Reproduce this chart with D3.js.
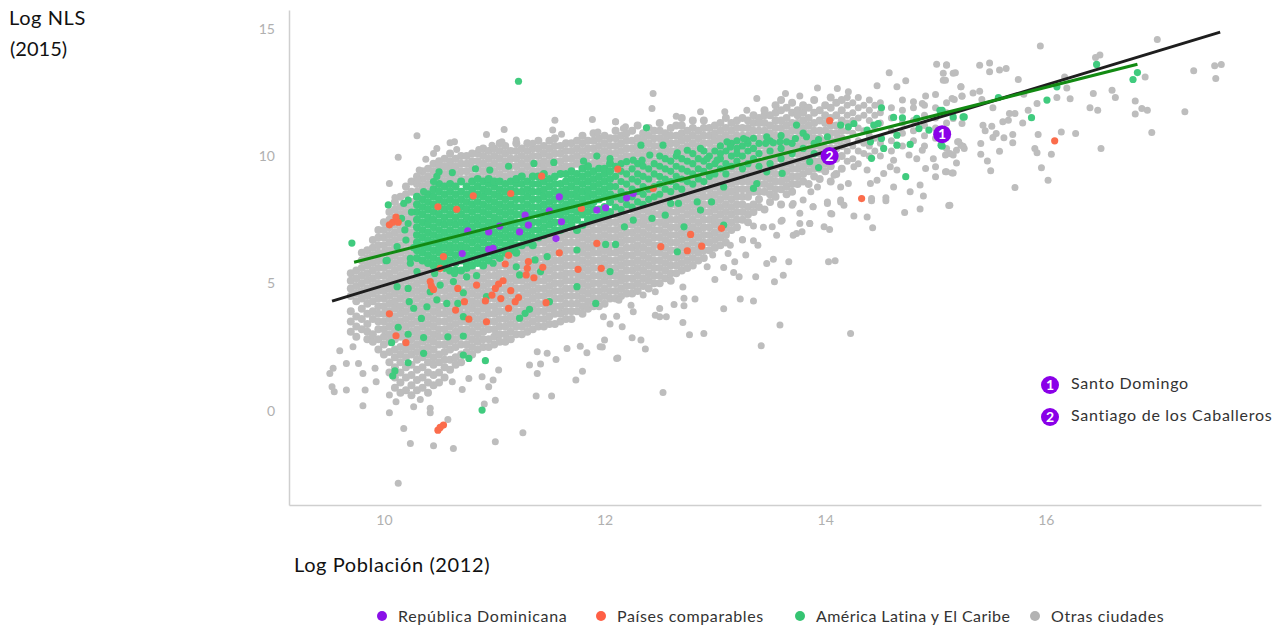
<!DOCTYPE html>
<meta charset="utf-8">
<head>
<style>
  body { margin: 0; background: #fff; }
  text { font-family: Lato, "Open Sans", sans-serif; }
</style>
</head>
<script src="https://d3js.org/d3.v7.min.js"></script>
<body>
  <div id="my_dataviz"></div>
</body>
<script>
// every value below is read or estimated off the picture; inside the dense
// core single dots can't be told apart so those columns are best estimates

// [log poblacion, log NLS] dots that can be told apart
var grayLoose = [
  [9.6,2.35],[9.72,2.51],[9.54,1.66],[9.51,1.46],[9.66,1.85],[9.77,1.85],[9.81,1.46],[9.92,1.66],[9.93,1.13],[9.53,.94],[9.55,.74],[9.66,.81],[9.83,.81],[9.81,.19],[10.05,.61],[10.05,-.09],[10.11,.35],[10.27,.15],[10.42,.09],[10.42,-.09],[10.33,.44],[10.58,-.35],[10.18,-.7],[10.24,-1.29],[10.45,-1.38],[10.63,-1.49],[10.13,-2.86],[11.01,-1.22],[11.26,-.87],[11.38,.57],[11.52,.57],[11.74,1.2],[11.8,1.55],[11.01,.41],[10.91,.26],[10.71,.83],[10.62,1.13],[10.77,1.26],[10.89,1.33],[10.95,.94],[10.99,1.2],[11.04,1.59],[11.32,1.79],[11.42,1.83],[11.39,1.46],[11.39,2.31],[11.48,2.25],[11.56,2.01],[11.66,2.44],[11.78,2.53],[11.84,2.27],[11.96,2.51],[12.11,2.05],
  [12.12,2.07],[12.37,2.42],[12.33,2.77],[12.25,2.86],[12.16,3.29],[12.05,3.4],[11.99,3.69],[12.11,3.71],[12,2.77],[11.98,2.5],[12.26,3.88],[12.24,4.14],[12.13,4.34],[12.46,3.75],[12.5,4.01],[12.5,3.69],[12.56,3.69],[12.71,3.46],[12.77,2.98],[12.9,3.03],[12.63,4.17],[12.72,4.41],[12.72,4.12],[12.82,4.38],[12.71,4.86],[13.08,4],[13,5.15],[13.08,5.62],[13.17,5.43],[13.22,5.26],[13.37,5.26],[13.23,4.38],[13.35,4.31],[13.59,3.36],[13.42,2.55],[14.23,3.03],[12.53,.71],[13.54,5.06],[13.62,5.32],[13.47,5.78],[13.53,5.95],[13.67,5.85],[14.03,5.85],[14.09,5.89],[13.28,6.11],[13.18,5.85],[13.12,6.17],[13.39,6.5],[13.35,6.67],[13.25,6.72],[13.14,6.5],[12.98,6.11],[12.93,5.65],[13.56,6.89],[13.71,6.89],[13.79,7.03],[13.77,7.35],[13.86,7.35],[13.6,7.44],[13.99,7.22],[14.04,7.12],[14.06,7.72],[14.26,7.65],[14.38,7.61],[14.43,7.18],[13.35,7.25],[13.44,7.2],[13.52,7.22],[13.77,7.75],[13.7,8.07],[13.89,8.01],[14.02,8.14],[14.14,8.2],[14.42,8.24],[14.55,8.24],[12.35,4.54],[12.46,4.67],
  [12.44,12.46],[12.43,11.87],[12.1,11.35],[12.19,11.15],[12.65,11.57],[12.87,11.74],[13.09,11.74],[13.29,11.8],[13.38,12.26],[13.64,12.46],[13.77,12.36],[13.93,12.68],[14.11,12.66],[14.21,12.53],[14.47,12.76],[14.58,13.27],[14.65,12.72],[14.73,12.96],[15.01,13.61],[15.1,13.59],[15.07,13.25],[15.16,13.25],[15.07,12.98],[15.23,12.72],[15.24,12.36],[15.17,12.22],[14.91,12.36],[15,12.42],[14.8,12.13],[14.88,12.07],
  [15.23,10.43],[15.2,10.56],[15.1,10.3],[15.16,10.04],[15.26,10.3],[14.98,9.9],[15,9.58],[15,9.19],[14.91,9.51],[15.1,9.38],[15.16,9.34],[14.76,10.04],[14.83,9.9],[14.88,10.23],[14.86,8.86],[14.89,8.43],[14.77,8.6],[15.13,8.07],[14.86,7.92],[14.72,7.78],[14.62,8.79],[14.55,8.36],[14.42,8.33],[14.62,9.84],[14.59,9.58],[14.65,9.45],[14.53,9.32],[14.41,8.92],[14.47,9.05],[14.38,9.45],[14.26,9.58],[14.14,8.79],[14.21,8.92],[14.14,8.27],[14.17,8.07],[14.05,7.74],[13.89,8.01],[14.02,8.2],[14.08,9.25],[13.93,8.79],[13.87,8.6],[13.8,8.27],[13.71,8.14],[13.86,7.35],[13.74,6.96],[13.61,7.48],[13.25,6.7],
  [15.95,14.33],[17.01,14.58],[16.49,13.97],[16.45,13.87],[15.1,13.57],[15.4,13.57],[15.49,13.66],[15.49,13.31],[15.58,13.38],[15.64,13.44],[15.18,13.27],[15.09,12.98],[15.75,13.01],[15.23,12.72],[15.24,12.35],[15.15,12.26],[15.34,12.48],[15.4,12.55],[15.42,12.22],[16.17,13.11],[16.19,12.68],[16.1,12.3],[16.22,12.25],[15.92,12.07],[15.84,11.8],[16.43,12.46],[16.6,12.59],[16.63,12.3],[16.4,11.9],[16.47,11.8],[16.81,12.16],[16.87,11.87],[16.92,11.8],[16.81,11.65],[16.9,13.11],[17.26,11.74],[17.34,13.35],[17.53,13.55],[17.59,13.6],[17.54,13.05],[16.96,10.93],[16.5,10.3],[16.27,10.89],[16.14,10.95],[15.93,10.85],[16.05,10.07],[15.9,10.3],[15.92,10.13],[15.96,9.54],[16.02,9.05],[15.72,8.77],[15.12,8.06],[15.5,9.42],[15.47,9.81],[15.41,10.07],[15.41,10.49],[15.58,10.19],[15.7,10.85],[15.7,10.52],[15.62,10.72],[15.55,10.89],[15.52,10.73],[15.43,11.21],[15.45,11],[15.51,11.17],[15.61,11.35],[15.66,11.41],[15.67,11.67],[15.72,11.67],[15.79,11.3],[15.24,11.28],[15.16,11.48],[15.21,10.56],[15.25,10.39],[15.19,10.23],[15.13,10.1],[15.09,10.04],[15.19,9.73],[15.09,9.38],[15.15,9.34],[15.52,11.9],[15.8,12.43],
  [10.3,10.8],[10.13,9.95],[10.05,8.92],[10.1,8.37],[10.38,9.88],[10.32,9.45],[10.31,9.05],[10.48,10.3],[10.45,10.1],[10.6,10.52],[10.64,10.56],[10.66,10.26],[10.93,10.85],[11.09,11.04],[10.98,10.43],[10.86,10.26],[11.07,10.56],[11.2,10.63],[11.35,10.5],[11.55,11.41],[11.53,11.02],[11.61,10.86],[11.89,11.44],[12.1,11.35],[11.94,10.95],[12.17,11.08]
];

// [log poblacion, [log NLS, ...]] for the solid grey body, one column per 0.05
var grayColumns = [
  [9.70,[3.1,3.5,3.9,4.5,4.8,5.1,5.4]],
  [9.75,[2.9,3.3,3.7,4.3,4.6,4.9,5.2,5.5]],
  [9.80,[3.2,3.6,4,4.4,4.7,5,5.3,5.6,5.9,6.2]],
  [9.85,[2.8,3.1,3.4,3.8,4.2,4.5,4.8,5.1,5.4,5.7,6,6.3]],
  [9.90,[2.7,3,3.6,3.9,4.3,4.6,4.9,5.2,5.5,5.8,6.1,6.4,6.7]],
  [9.95,[2.4,2.8,3.2,3.5,3.8,4.1,4.4,4.7,5,5.3,5.6,5.9,6.2,6.5,6.8,7.1]],
  [10.00,[2.2,2.6,2.9,3.2,3.5,3.8,4.1,4.4,4.7,5,5.3,5.6,5.9,6.2,6.5,6.8,7.1,7.4]],
  [10.05,[1.5,1.9,2.3,2.7,3,3.3,3.6,3.9,4.2,4.5,4.8,5.1,5.4,5.7,6,6.3,6.6,6.9,7.2,7.5,7.8]],
  [10.10,[.9,1.3,1.7,2.1,2.4,2.8,3.1,3.4,3.7,4,4.3,4.6,4.9,5.2,5.5,5.8,6.1,6.4,6.7,7,7.3,7.6,7.9,8.2]],
  [10.15,[.7,1.1,1.5,1.9,2.2,2.5,2.9,3.2,3.5,3.8,4.1,4.4,4.7,5,5.3,5.6,5.9,6.2,6.5,6.8,7.1,7.4,7.7,8,8.4]],
  [10.20,[.8,1.3,1.7,2.1,2.4,2.7,3,3.3,3.6,3.9,4.2,4.5,4.8,5.1,5.4,5.7,6,6.3,6.6,6.9,7.2,7.5,7.8,8.1,8.5,8.8]],
  [10.25,[.6,1,1.4,1.8,2.2,2.5,2.8,3.1,3.4,3.7,4,4.3,4.6,4.9,5.2,5.5,5.8,6.1,6.4,6.7,7,7.3,7.6,7.9,8.2,8.6,9]],
  [10.30,[.8,1.2,1.6,2,2.3,2.6,2.9,3.2,3.5,3.8,4.1,4.4,4.7,5,5.3,5.6,5.9,8.3,8.6,8.9,9.2]],
  [10.35,[.9,1.3,1.7,2.1,2.4,2.7,3,3.3,3.6,3.9,4.2,4.5,4.8,5.1,5.4,5.7,8.5,8.8,9.1,9.4]],
  [10.40,[.7,1.1,1.5,1.9,2.2,2.5,2.8,3.1,3.4,3.7,4,4.3,4.6,4.9,5.2,5.5,5.8,8.6,8.9,9.2,9.5]],
  [10.45,[1,1.4,1.8,2.1,2.4,2.7,3,3.3,3.6,3.9,4.2,4.5,4.8,5.1,5.4,8.8,9.1,9.4,9.7]],
  [10.50,[1.1,1.5,1.9,2.2,2.6,2.9,3.2,3.5,3.8,4.1,4.4,4.7,5,5.3,5.6,8.9,9.2,9.5,9.8]],
  [10.55,[1.3,1.7,2,2.3,2.6,2.9,3.2,3.5,3.8,4.1,4.4,4.7,5,5.3,9,9.3,9.6,9.9]],
  [10.60,[1.6,2,2.4,2.7,3,3.3,3.6,3.9,4.2,4.5,4.8,5.1,5.4,8.9,9.2,9.5,9.8,10.1]],
  [10.65,[1.8,2.1,2.5,2.8,3.1,3.4,3.7,4,4.3,4.6,4.9,5.2,9,9.3,9.6,9.9]],
  [10.70,[1.9,2.2,2.6,2.9,3.2,3.5,3.8,4.1,4.4,4.7,5,5.3,9.1,9.4,9.7,10]],
  [10.75,[2.3,2.6,2.9,3.2,3.5,3.8,4.1,4.4,4.7,5,5.3,9.1,9.4,9.7,10]],
  [10.80,[2.2,2.5,2.8,3.1,3.4,3.7,4,4.3,4.6,4.9,5.2,5.5,9.2,9.5,9.8,10.1]],
  [10.85,[2.4,2.7,3,3.3,3.6,3.9,4.2,4.5,4.8,5.1,5.4,9.2,9.5,9.8,10.1]],
  [10.90,[2.5,2.8,3.1,3.4,3.7,4,4.3,4.6,4.9,5.2,5.5,9.1,9.4,9.7,10,10.3]],
  [10.95,[2.5,2.8,3.2,3.5,3.8,4.1,4.4,4.7,5,5.3,5.6,9.3,9.6,9.9,10.2]],
  [11.00,[2.6,2.9,3.2,3.5,3.8,4.1,4.4,4.7,5,5.3,5.6,5.9,9.1,9.4,9.7,10,10.3]],
  [11.05,[2.7,3,3.3,3.6,3.9,4.2,4.5,4.8,5.1,5.4,5.7,9.3,9.6,9.9,10.2,10.5]],
  [11.10,[2.7,3,3.3,3.6,3.9,4.2,4.5,4.8,5.1,5.4,5.7,6,9.2,9.5,9.8,10.1,10.4]],
  [11.15,[2.8,3.1,3.4,3.7,4,4.3,4.6,4.9,5.2,5.5,5.8,6.1,9.3,9.6,9.9,10.2]],
  [11.20,[3,3.3,3.6,3.9,4.2,4.5,4.8,5.1,5.4,5.7,6,9.3,9.6,9.9,10.2,10.5]],
  [11.25,[3,3.3,3.6,3.9,4.2,4.5,4.8,5.1,5.4,5.7,6,6.3,9.4,9.7,10,10.3]],
  [11.30,[3.1,3.4,3.7,4,4.3,4.6,4.9,5.2,5.5,5.8,6.1,6.4,9.3,9.6,9.9,10.2,10.5]],
  [11.35,[3.2,3.5,3.8,4.1,4.4,4.7,5,5.3,5.6,5.9,6.2,9.4,9.7,10,10.3]],
  [11.40,[3.3,3.6,3.9,4.2,4.5,4.8,5.1,5.4,5.7,6,6.3,6.6,9.4,9.7,10,10.3,10.6]],
  [11.45,[3.3,3.6,3.9,4.2,4.5,4.8,5.1,5.4,5.7,6,6.3,6.6,9.5,9.8,10.1,10.4]],
  [11.50,[3.4,3.7,4,4.3,4.6,4.9,5.2,5.5,5.8,6.1,6.4,6.7,9.4,9.7,10,10.3,10.6]],
  [11.55,[3.4,3.8,4.1,4.4,4.7,5,5.3,5.6,5.9,6.2,6.5,6.8,9.5,9.8,10.1,10.4,10.7]],
  [11.60,[3.5,3.8,4.1,4.4,4.7,5,5.3,5.6,5.9,6.2,6.5,6.8,9.5,9.8,10.1,10.4]],
  [11.65,[3.6,3.9,4.2,4.5,4.8,5.1,5.4,5.7,6,6.3,6.6,6.9,9.6,9.9,10.2,10.5]],
  [11.70,[3.6,3.9,4.2,4.5,4.8,5.1,5.4,5.7,6,6.3,6.6,6.9,7.2,9.6,9.9,10.2,10.5]],
  [11.75,[3.9,4.2,4.5,4.8,5.1,5.4,5.7,6,6.3,6.6,6.9,9.7,10,10.3,10.6]],
  [11.80,[3.8,4.1,4.4,4.7,5,5.3,5.6,5.9,6.2,6.5,6.8,7.1,9.6,9.9,10.2,10.5,10.8]],
  [11.85,[4,4.3,4.6,4.9,5.2,5.5,5.8,6.1,6.4,6.7,7,7.3,9.7,10,10.3,10.6]],
  [11.90,[4.1,4.4,4.7,5,5.3,5.6,5.9,6.2,6.5,6.8,7.1,7.4,9.7,10,10.3,10.6,10.9]],
  [11.95,[4.1,4.4,4.7,5,5.3,5.6,5.9,6.2,6.5,6.8,7.1,7.4,9.8,10.1,10.4,10.7]],
  [12.00,[4.2,4.5,4.8,5.1,5.4,5.7,6,6.3,6.6,6.9,7.2,7.5,9.6,9.9,10.2,10.5,10.8]],
  [12.05,[4.4,4.7,5,5.3,5.6,5.9,6.2,6.5,6.8,7.1,7.4,7.7,9.8,10.1,10.4,10.7]],
  [12.10,[4.4,4.7,5,5.3,5.6,5.9,6.2,6.5,6.8,7.1,7.4,7.7,8,8.3,8.6,8.9,9.2,9.5,9.8,10.1,10.4,10.7,11]],
  [12.15,[4.5,4.8,5.1,5.4,5.7,6,6.3,6.6,6.9,7.2,7.5,7.8,8.1,8.4,8.7,9,9.3,9.6,9.9,10.2,10.5,10.8]],
  [12.20,[4.6,4.9,5.2,5.5,5.8,6.1,6.4,6.7,7,7.3,7.6,7.9,8.2,8.5,8.8,9.1,9.4,9.7,10,10.3,10.6,10.9]],
  [12.25,[4.6,4.9,5.2,5.5,5.8,6.1,6.4,6.7,7,7.3,7.6,7.9,8.2,8.5,8.8,9.1,9.4,9.7,10,10.3,10.6,11]],
  [12.30,[4.7,5,5.3,5.6,5.9,6.2,6.5,6.8,7.1,7.4,7.7,8,8.3,8.6,8.9,9.2,9.5,9.8,10.1,10.4,10.7,11.2]],
  [12.35,[4.9,5.2,5.5,5.8,6.1,6.4,6.7,7,7.3,7.6,7.9,8.2,8.5,8.8,9.1,9.4,9.7,10,10.3,10.6,10.9]],
  [12.40,[4.8,5.1,5.4,5.7,6,6.3,6.6,6.9,7.2,7.5,7.8,8.1,8.4,8.7,9,9.3,9.6,9.9,10.2,10.5,10.8,11.1]],
  [12.45,[5,5.3,5.6,5.9,6.2,6.5,6.8,7.1,7.4,7.7,8,8.3,8.6,8.9,9.2,9.5,9.8,10.1,10.4,10.7,11]],
  [12.50,[5,5.3,5.6,5.9,6.2,6.5,6.8,7.1,7.4,7.7,8,8.3,8.6,8.9,9.2,9.5,9.8,10.1,10.4,10.7,11,11.3]],
  [12.55,[5.2,5.5,5.8,6.1,6.4,6.7,7,7.3,7.6,7.9,8.2,8.5,8.8,9.1,9.4,9.7,10,10.3,10.6,10.9]],
  [12.60,[5.1,5.4,5.7,6,6.3,6.6,6.9,7.2,7.5,7.8,8.1,8.4,8.7,9,9.3,9.6,9.9,10.2,10.5,10.8,11.1]],
  [12.65,[5.4,5.7,6,6.3,6.6,6.9,7.2,7.5,7.8,8.1,8.4,8.7,9,9.3,9.6,9.9,10.2,10.5,10.8,11.2]],
  [12.70,[5.5,5.8,6.1,6.4,6.7,7,7.3,7.6,7.9,8.2,8.5,8.8,9.1,9.4,9.7,10,10.3,10.6,10.9,11.2,11.5]],
  [12.75,[5.6,5.9,6.2,6.5,6.8,7.1,7.4,7.7,8,8.3,8.6,8.9,9.2,9.5,9.8,10.1,10.4,10.7,11]],
  [12.80,[5.7,6,6.3,6.6,6.9,7.2,7.5,7.8,8.1,8.4,8.7,9,9.3,9.6,9.9,10.2,10.5,10.8,11.1,11.4]],
  [12.85,[5.9,6.2,6.5,6.8,7.1,7.4,7.7,8,8.3,8.6,8.9,9.2,9.5,9.8,10.1,10.4,10.7,11]],
  [12.90,[6,6.3,6.6,6.9,7.2,7.5,7.8,8.1,8.4,8.7,9,9.3,9.6,9.9,10.2,10.5,10.8,11.1,11.4]],
  [12.95,[6.3,6.6,6.9,7.2,7.5,7.8,8.1,8.4,8.7,9,9.3,9.6,9.9,10.2,10.5,10.8,11.1]],
  [13.00,[6.4,6.7,7,7.3,7.6,7.9,8.2,8.5,8.8,9.1,9.4,9.7,10,10.3,10.6,10.9,11.2]],
  [13.05,[6.5,6.8,7.1,7.4,7.7,8,8.3,8.6,8.9,9.2,9.5,9.8,10.1,10.4,10.7,11,11.3]],
  [13.10,[6.6,6.9,7.2,7.5,7.8,8.1,8.4,8.7,9,9.3,9.6,9.9,10.2,10.5,10.8,11.1,11.5]],
  [13.15,[7.1,7.4,7.7,8,8.3,8.6,8.9,9.2,9.5,9.8,10.1,10.4,10.7,11,11.3]],
  [13.20,[7.2,7.5,7.8,8.1,8.4,8.7,9,9.3,9.6,9.9,10.2,10.5,10.8,11.1,11.4]],
  [13.25,[7.5,7.8,8.1,8.4,8.7,9,9.3,9.6,9.9,10.2,10.5,10.8,11.1,11.5]],
  [13.30,[7.4,7.7,8,8.4,8.7,9,9.3,9.6,9.9,10.2,10.5,10.8,11.1,11.4]],
  [13.35,[7.8,8.1,8.6,8.9,9.2,9.5,9.8,10.1,10.4,10.7,11,11.3,11.6]],
  [13.40,[8,8.3,8.6,8.9,9.2,9.5,9.8,10.1,10.4,10.7,11,11.3,11.5]],
  [13.45,[7.9,8.6,8.9,9.2,9.5,9.8,10.1,10.4,10.7,11,11.3,11.6,11.8]],
  [13.50,[8.2,8.5,8.8,9.1,9.4,9.7,10,10.3,10.6,10.9,11.2,11.6]],
  [13.55,[8.4,8.7,9,9.3,9.6,9.9,10.2,10.5,10.8,11.1,11.4,11.7,12]],
  [13.60,[8.1,8.7,9,9.3,9.6,9.9,10.2,10.5,10.8,11.1,11.4,11.8,12.2]],
  [13.65,[8.5,8.8,9.1,9.4,9.7,10,10.3,10.6,10.9,11.2,11.5,11.9]],
  [13.70,[8.6,8.9,9.2,9.5,9.8,10.1,10.4,10.7,11,11.3,11.7,12.1]],
  [13.75,[8.9,9.2,9.5,9.8,10.1,10.4,10.7,11,11.3,11.6,11.8]],
  [13.80,[9,9.3,9.6,9.9,10.2,10.5,10.8,11.1,11.4,11.7,12]],
  [13.85,[8.9,9.4,9.7,10,10.3,10.6,10.9,11.2,11.5,11.9]],
  [13.90,[9.2,9.5,9.8,10.1,10.4,10.7,11,11.3,11.7,12.2]],
  [13.95,[9.1,9.5,9.8,10.1,10.4,10.7,11,11.4,11.8]],
  [14.00,[9.4,9.7,10,10.3,10.6,11,11.3,11.6,12]],
  [14.05,[9,9.6,10,10.3,10.6,10.9,11.2,11.5,11.9,12.3]],
  [14.10,[9.3,9.9,10.3,10.6,10.9,11.2,11.6,12.1]],
  [14.15,[9.5,10,10.4,10.7,11,11.4,11.8,12.2]],
  [14.20,[9.8,10.2,10.6,11,11.3,11.6,12,12.3]],
  [14.25,[9.9,10.4,10.9,11.4,11.7,12.1]],
  [14.30,[9.7,10.2,10.6,11.1,11.5,11.9,12.3]],
  [14.35,[10.1,10.5,11,11.6,12]],
  [14.40,[10,10.4,10.8,11.4,11.8,12.2]],
  [14.45,[10.2,10.7,11.1,11.6,12]],
  [14.50,[10,10.5,11.3,11.7,12.1]],
  [14.60,[10.2,10.6,11,11.5,11.9]],
  [14.70,[10.4,10.9,11.3,11.8,12.2]],
  [14.80,[10.6,11,11.4,11.9]],
  [14.90,[10.4,10.8,11.2,11.6,12]],
  [15.00,[10.7,11.1,11.5,11.9]],
  [15.10,[11,11.3,11.7,12.1]]
];

var greenLoose = [
  [11.22,12.94],[9.71,6.58],[10.04,8.08],[10.89,.02],[10.07,2.67],[10.36,2.25],[10.22,1.88],[10.1,1.56],[10.08,1.36],[10.72,2.18],[10.77,2.05],[10.92,1.96],
  [10.13,3.27],[10.22,3],[10.36,2.87],[10.58,2.9],[10.72,2.93],[10.34,3.62],[10.39,4.08],[10.23,4.28],[10.27,4.02],[10.57,4.21],[10.48,4.35],[10.67,4.21],[10.72,3.69],[10.93,4.48],[11.23,3.63],[11.28,3.82],[11.32,3.98],[11.5,4.28],[11.92,4.21],[11.75,4.87],[12.05,5.46],[10.72,4.63],[10.22,4.8],[10.42,4.67],[10.12,4.87],[10.51,4.93],
  [10.02,5.89],[10.24,5.79],[10.3,5.46],[10.46,5.39],[10.63,5.07],[10.64,5.39],[10.75,5.25],[10.84,5.3],[10.99,5.79],[11.2,5.65],[11.23,5.33],[11.37,5.92],[11.42,5.46],[11.48,6.05],[11.75,6.31],
  [10.18,8.14],[10.19,7.1],[10.16,7.55],[10.12,6.44],[10.03,5.9],[10.24,5.98],[10.22,8.27],[10.25,7.8],[10.22,7.35],[10.2,6.7],[10.27,6.4],[10.36,8.6],[10.45,9],[10.48,9.2],[10.5,9.38],[10.62,9.35],[10.83,9.5],[10.96,9.45],[11.13,9.6],[11.36,9.71],[11.54,9.75],[11.81,9.8],[11.93,10],
  [12.38,11.11],[14.51,11.9],[13.74,11.22],[14.62,11.52],[14.7,11.5],[14.83,11.48],[15.04,11.8],[15.16,11.54],[15.26,11.54],[14.94,11.02],[14.85,11.08],[14.77,10.46],[14.65,10.43],[14.53,10.3],[14.42,9.91],[14.73,9.19],[15.05,10.43],[14.65,10.82],[14.48,11.28],[14.44,11.22],[14.38,11.02],[14.41,10.56],[14.51,10.69],[14.26,11.28],[14.21,11.15],[14.14,11.22],
  [14.02,10.76],[13.94,10.65],[13.83,10.76],[13.73,10.69],[13.65,10.56],[13.59,10.56],[13.53,10.52],[13.47,10.76],[13.46,10.5],[13.29,10.63],[13.26,10.69],[13.2,10.3],[13.11,10.56],[13.14,10.36],[13.05,10.1],[13.02,9.84],[12.93,9.9],[12.87,10.3],[12.75,10.23],[12.66,10.13],[12.53,10.43],[12.33,10.43],[12.41,10.04],[12.34,9.84],[12.26,9.84],[12.2,9.78],[12.05,9.9],
  [13.94,9.55],[13.86,9.78],[13.61,9.32],[13.47,9.38],[13.38,8.92],[13.35,8.73],[13.08,8.79],[12.97,8.2],[12.87,7.88],[12.84,8.2],[12.67,8.14],[12.6,8.14],[12.55,7.68],[12.43,7.55],[12.26,7.48],[12.18,7.22],[12.1,6.53],[12.01,6.53],[12.72,7.22],[12.66,6.24],[13.08,7.29],
  [16.46,13.6],[16.01,12.2],[16.1,12.72],[15.87,11.51],[16.79,13.01],[16.83,13.28],[15.25,11.54],[15.57,12.3],[15.06,11.8],[15.06,10.39]
];

var greenColumns = [
  [10.30,[6,6.3,6.6,6.9,7.2,7.5,7.8,8.1,8.4]],
  [10.35,[5.9,6.2,6.5,6.8,7.1,7.4,7.7,8,8.3]],
  [10.40,[5.8,6.1,6.4,6.7,7,7.3,7.6,7.9,8.2,8.5]],
  [10.45,[5.7,6,6.3,6.6,6.9,7.2,7.5,7.8,8.1,8.4,8.7]],
  [10.50,[5.6,5.9,6.2,6.5,6.8,7.1,7.4,7.7,8,8.3,8.6,8.9]],
  [10.55,[5.6,5.8,6.1,6.4,6.7,7,7.3,7.6,7.9,8.2,8.5,8.8]],
  [10.60,[5.5,5.9,6.2,6.5,6.8,7.1,7.4,7.7,8,8.3,8.6,8.9]],
  [10.65,[5.5,5.8,6.1,6.4,6.7,7,7.3,7.6,7.9,8.2,8.5,8.8]],
  [10.70,[5.5,5.9,6.2,6.5,6.8,7.1,7.4,7.7,8,8.3,8.6,9]],
  [10.75,[5.6,5.8,6.1,6.4,6.7,7,7.3,7.6,7.9,8.2,8.5,8.8]],
  [10.80,[5.7,6,6.3,6.6,6.9,7.2,7.5,7.8,8.1,8.4,8.7,9]],
  [10.85,[5.8,6.1,6.4,6.7,7,7.3,7.6,7.9,8.2,8.5,8.8,9.1]],
  [10.90,[5.7,6,6.3,6.6,6.9,7.2,7.5,7.8,8.1,8.4,8.7,9]],
  [10.95,[5.9,6.2,6.5,6.8,7.1,7.4,7.7,8,8.3,8.6,8.9,9.1]],
  [11.00,[6.1,6.4,6.7,7,7.3,7.6,7.9,8.2,8.5,8.8,9]],
  [11.05,[6,6.3,6.6,6.9,7.2,7.5,7.8,8.1,8.4,8.7,9]],
  [11.10,[6.2,6.5,6.8,7.1,7.4,7.7,8,8.3,8.6,8.9]],
  [11.15,[6.3,6.6,6.9,7.2,7.5,7.8,8.1,8.4,8.7,9]],
  [11.20,[6.2,6.5,6.8,7.1,7.4,7.7,8,8.3,8.6,8.9,9.1]],
  [11.25,[6.5,6.8,7.1,7.4,7.7,8,8.3,8.6,8.9,9.2]],
  [11.30,[6.6,6.9,7.2,7.5,7.8,8.1,8.4,8.7,9]],
  [11.35,[6.5,6.8,7.1,7.4,7.7,8,8.3,8.6,8.9,9.2]],
  [11.40,[6.8,7.1,7.4,7.7,8,8.3,8.6,8.9,9.2]],
  [11.45,[6.9,7.2,7.5,7.8,8.1,8.4,8.7,9,9.3]],
  [11.50,[7,7.3,7.6,7.9,8.2,8.5,8.8,9.1]],
  [11.55,[7.1,7.4,7.7,8,8.3,8.6,8.9,9.2]],
  [11.60,[7.1,7.4,7.7,8,8.3,8.6,8.9,9.3]],
  [11.65,[7.2,7.5,7.8,8.1,8.4,8.7,9,9.3]],
  [11.70,[7.3,7.6,7.9,8.2,8.5,8.8,9.1,9.4]],
  [11.75,[7.1,7.5,7.8,8.1,8.4,8.7,9,9.3]],
  [11.80,[7.3,7.7,8,8.3,8.6,8.9,9.2,9.5]],
  [11.85,[7.5,7.8,8.1,8.4,8.7,9,9.3,9.6]],
  [11.90,[7.6,7.9,8.2,8.5,8.8,9.1,9.4]],
  [11.95,[7.6,7.9,8.3,8.6,8.9,9.2,9.5]],
  [12.00,[7.7,8,8.4,8.7,9,9.3,9.5]],
  [12.05,[7.8,8.2,8.5,8.8,9.1,9.4,9.7]],
  [12.10,[8,8.4,8.8,9.2,9.6]],
  [12.15,[7.9,8.3,8.6,9,9.4,9.7]],
  [12.20,[8.1,8.5,8.9,9.3]],
  [12.25,[8,8.4,8.7,9.1,9.5]],
  [12.30,[8.2,8.6,9,9.3,9.7]],
  [12.35,[8.1,8.5,8.8,9.2,9.6]],
  [12.40,[8.3,8.7,9.1,9.5]],
  [12.45,[8.4,8.8,9.3,9.7]],
  [12.50,[8.5,8.9,9.2,9.6,10]],
  [12.55,[8.7,9.1,9.5,9.9]],
  [12.60,[8.6,9,9.4,9.8]],
  [12.65,[8.8,9.2,9.6,10]],
  [12.70,[8.7,9.1,9.5,9.9]],
  [12.75,[9,9.4,9.8]],
  [12.80,[8.9,9.3,9.7,10.1]],
  [12.85,[9.1,9.5,9.9]],
  [12.90,[9,9.4,9.8,10.2]],
  [12.95,[9.2,9.6,10]],
  [13.00,[9.3,9.7,10.2]],
  [13.05,[9.5,9.9,10.4]],
  [13.10,[9.3,9.7,10.2]],
  [13.15,[9.6,10,10.5]],
  [13.20,[9.8,10.1,10.6]],
  [13.25,[9.5,10,10.4]],
  [13.30,[9.7,10.2,10.5]],
  [13.35,[9.9,10.3,10.7]],
  [13.40,[9.6,10.1,10.5]],
  [13.50,[9.7,10.2,10.6]],
  [13.60,[9.9,10.3,10.8]],
  [13.70,[10.1,10.5]],
  [13.80,[10.3,10.9]],
  [13.90,[10.1,10.5]]
];

var redPoints = [
  [10.54,6.05],[10.51,5.59],[10.42,5.07],[10.43,4.9],[10.45,4.76],[10.67,4.8],[10.73,4.28],[10.65,3.95],[10.77,3.59],[10.93,3.49],[10.84,4.93],[10.92,4.31],[10.98,4.54],[11.01,4.8],[11.04,4.97],[11.08,5.1],[11.06,4.4],[11.15,4.71],[11.13,4.02],[11.19,4.28],[11.22,4.44],[11.1,5.76],[11.13,6.1],[11.31,5.85],[11.3,5.59],[11.29,5.33],[11.36,5.22],[11.44,5.63],[11.59,6.2],[11.76,5.55],[11.97,5.59],[11.47,4.24],[10.05,3.8],[10.11,2.94],[10.2,2.67],
  [10.08,7.4],[10.11,7.6],[10.05,7.3],[10.13,7.4],[10.49,8.01],[10.66,7.91],[10.81,8.44],[11.15,8.53],[11.43,9.21],[11.79,7.94],[11.93,6.57],
  [14.04,11.39],[14.33,8.33],[12.12,9.49],[12.44,8.73],[12.78,6.92],[13.06,7.16],[12.51,6.44],[12.75,6.28],[12.88,6.46],[16.08,10.6],[10.49,-.77],[10.51,-.66],[10.54,-.57]
];

var purplePoints = [
  [11.59,8.4],[11.28,7.68],[11.5,7.85],[11.93,7.88],[12.01,7.97],[11.61,7.42],[11.31,7.29],[11.23,7.02],[11.05,7.25],[10.95,7.02],[10.76,7.06],[11.56,6.76],[10.71,6.17],[10.95,6.34],[10.99,6.37],[12.2,8.36],[12.26,8.53]
];

var blackLine = [[9.53,4.30],[17.58,14.87]];
var greenLine = [[9.73,5.83],[16.83,13.61]];

var xTicks = [10,12,14,16];
var yTicks = [0,5,10,15];

var cities = [
  {n: "1", name: "Santo Domingo", x: 15.06, y: 10.86},
  {n: "2", name: "Santiago de los Caballeros", x: 14.04, y: 10.0}
];
var legendNames = ["República Dominicana","Países comparables","América Latina y El Caribe","Otras ciudades"];
var legendColors = ["#8a10e8","#ff5f45","#35c472","#b3b3b3"];
var legendDotX = [382,601,800,1035];

var svg = d3.select("#my_dataviz").append("svg")
    .attr("width", 1283)
    .attr("height", 628)
    .style("display", "block");

// the reference is a soft upscaled image, a tiny blur gets the dots closer
svg.append("defs").append("filter").attr("id", "soft")
  .append("feGaussianBlur").attr("stdDeviation", 0.45);

var x = d3.scaleLinear().domain([9.14,17.95]).range([289,1261]);
var y = d3.scaleLinear().domain([-3.71,15.74]).range([505,10]);

function flatten(cols) {
  return cols.flatMap(function(c) { return c[1].map(function(v) { return [c[0], v]; }); });
}

var marks = svg.append("g").attr("filter", "url(#soft)");

function dots(data, color, r) {
  marks.append("g").selectAll("circle")
    .data(data)
    .enter().append("circle")
      .attr("cx", function(d) { return x(d[0]); })
      .attr("cy", function(d) { return y(d[1]); })
      .attr("r", r)
      .style("fill", color);
}

// packed columns get a slightly bigger dot so the body closes up like the original
dots(flatten(grayColumns.filter(function(c) { return c[0] < 14.2; })), "#bdbdbd", 4);
dots(flatten(grayColumns.filter(function(c) { return c[0] >= 14.2; })).concat(grayLoose), "#bdbdbd", 3.5);
dots(flatten(greenColumns.filter(function(c) { return c[0] < 12.1; })), "#3fcb7e", 4);
dots(flatten(greenColumns.filter(function(c) { return c[0] >= 12.1; })).concat(greenLoose), "#3fcb7e", 3.6);
dots(redPoints, "#fb6c4c", 3.6);
dots(purplePoints, "#9a35f0", 3.6);

// axes
var xAxis = svg.append("g")
    .attr("transform", "translate(0,505)")
    .call(d3.axisBottom(x).tickValues(xTicks).tickSize(0).tickPadding(10));
var yAxis = svg.append("g")
    .attr("transform", "translate(289,0)")
    .call(d3.axisLeft(y).tickValues(yTicks).tickSize(0).tickPadding(14));
[xAxis, yAxis].forEach(function(a) {
  a.select(".domain").style("stroke", "#cfcfcf").style("stroke-width", 1.5);
  a.selectAll("text").style("font-family", "Lato").style("font-size", "14px").style("fill", "#b0b0b0");
});

// trend lines
var line = d3.line().x(function(d) { return x(d[0]); }).y(function(d) { return y(d[1]); });
svg.append("path").attr("d", line(blackLine))
    .style("fill", "none").style("stroke", "#1e1e1e").style("stroke-width", 3);
svg.append("path").attr("d", line(greenLine))
    .style("fill", "none").style("stroke", "#128a12").style("stroke-width", 3);

// numbered city badges, on the chart and in the side key
function badge(cx, cy, label) {
  svg.append("circle").attr("cx", cx).attr("cy", cy).attr("r", 9).style("fill", "#8a00e8");
  svg.append("text").attr("x", cx).attr("y", cy + 5)
      .style("text-anchor", "middle").style("font-size", "14px").style("font-weight", 700)
      .style("fill", "#fff").text(label);
}
cities.forEach(function(c, i) {
  badge(x(c.x), y(c.y), c.n);
  badge(1050, 385 + i * 32, c.n);
  svg.append("text").attr("x", 1071).attr("y", 389 + i * 32)
      .style("font-size", "16px").style("letter-spacing", "0.72px").style("fill", "#333").text(c.name);
});

// titles
svg.append("text").attr("x", 9).attr("y", 25).style("font-size", "20px").style("letter-spacing", "0.6px").style("fill", "#111").text("Log NLS");
svg.append("text").attr("x", 10).attr("y", 56).style("font-size", "20px").style("fill", "#111").text("(2015)");
svg.append("text").attr("x", 294).attr("y", 572).style("font-size", "20px").style("letter-spacing", "0.6px").style("fill", "#111").text("Log Población (2012)");

// legend
var legendSpacing = [0.7,0.6,0.45,0.6];
legendNames.forEach(function(name, i) {
  svg.append("circle").attr("cx", legendDotX[i]).attr("cy", 616).attr("r", 5).style("fill", legendColors[i]);
  svg.append("text").attr("x", legendDotX[i] + 16).attr("y", 622)
      .style("font-size", "16px").style("letter-spacing", legendSpacing[i] + "px").style("fill", "#333").text(name);
});
</script>
